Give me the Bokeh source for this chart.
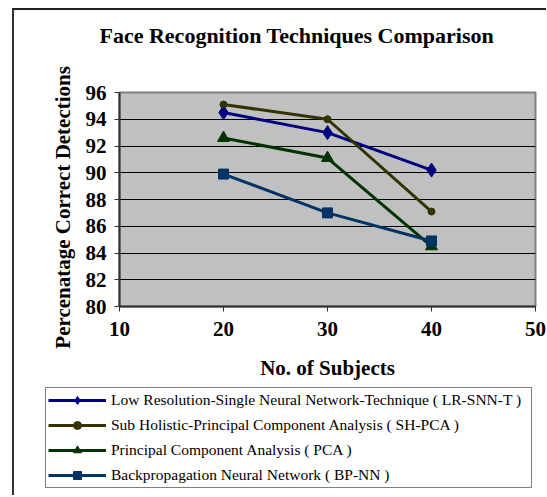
from bokeh.plotting import figure
from bokeh.layouts import column
from bokeh.models import Legend, LegendItem, FixedTicker, Range1d, Label
from bokeh.embed import file_html
from bokeh.resources import INLINE

subjects = [20, 30, 40]
lr_snn_t = [94.5, 93.0, 90.2]
sh_pca = [95.1, 94.0, 87.1]
pca = [92.6, 91.1, 84.5]
bp_nn = [89.9, 87.0, 84.9]
x_ticks = [10, 20, 30, 40, 50]
y_ticks = [80, 82, 84, 86, 88, 90, 92, 94, 96]
series_names = [
    "Low Resolution-Single Neural Network-Technique ( LR-SNN-T )",
    "Sub Holistic-Principal Component Analysis ( SH-PCA )",
    "Principal Component Analysis ( PCA )",
    "Backpropagation Neural Network ( BP-NN )",
]
chart_title = "Face Recognition Techniques Comparison"
x_title = "No. of Subjects"
y_title = "Percenatage Correct Detections"

SERIF = "Liberation Serif"
W = 532

colors = ["#000080", "#333300", "#003300", "#003366"]
markers = ["diamond", "circle", "triangle", "square"]
sizes = [14, 7, 12, 10]
data = [lr_snn_t, sh_pca, pca, bp_nn]


def blank(height):
    f = figure(width=W, height=height, output_backend="svg", toolbar_location=None,
               x_range=Range1d(0, 1), y_range=Range1d(0, 1),
               x_axis_type=None, y_axis_type=None,
               min_border_left=0, min_border_right=0, min_border_top=0,
               min_border_bottom=0, frame_align=False)
    f.outline_line_color = None
    f.background_fill_color = "white"
    f.border_fill_color = "white"
    f.xgrid.grid_line_color = None
    f.ygrid.grid_line_color = None
    return f


# ---- title strip ----
p0 = blank(39)
p0.add_layout(Label(x=85, y=14, x_units="screen", y_units="screen", text=chart_title,
                    text_font=SERIF, text_font_style="bold", text_font_size="22px",
                    text_color="black", text_baseline="alphabetic"))

# ---- main chart ----
p = figure(width=W, height=336, output_backend="svg", toolbar_location=None,
           x_range=Range1d(10, 50), y_range=Range1d(80, 96),
           min_border_left=105, min_border_right=11, min_border_top=43,
           min_border_bottom=79, frame_align=False)
p.background_fill_color = "#C0C0C0"
p.border_fill_color = "white"
p.outline_line_color = "#808080"
p.outline_line_width = 2

for ax in (p.xaxis[0], p.yaxis[0]):
    ax.major_label_text_font = SERIF
    ax.major_label_text_font_style = "bold"
    ax.major_label_text_font_size = "21px"
    ax.major_label_text_color = "black"
    ax.axis_label_text_font = SERIF
    ax.axis_label_text_font_style = "bold"
    ax.axis_label_text_font_size = "21px"
    ax.axis_label_text_color = "black"
    ax.axis_line_color = "#303030"
    ax.axis_line_width = 2
    ax.major_tick_line_color = "#303030"
    ax.major_tick_out = 5
    ax.major_tick_in = 0
    ax.minor_tick_line_color = None

p.xaxis.ticker = FixedTicker(ticks=x_ticks)
p.yaxis.ticker = FixedTicker(ticks=y_ticks)
p.xaxis.axis_label = x_title
p.yaxis.axis_label = y_title + "\u00a0\u00a0\u00a0"
p.xaxis.major_label_standoff = 10
p.yaxis.major_label_standoff = 8
p.xaxis.axis_label_standoff = 17
p.yaxis.axis_label_standoff = 8

p.xgrid.grid_line_color = None
p.ygrid.grid_line_color = "black"
p.ygrid.grid_line_width = 1

for vals, c, m, s in zip(data, colors, markers, sizes):
    p.line(subjects, vals, line_color=c, line_width=3)
    p.scatter(subjects, vals, marker=m, size=s, fill_color=c, line_color=c)

# ---- legend strip ----
p2 = blank(110)
items = []
for name, vals, c, m in zip(series_names, data, colors, markers):
    ln = p2.line(subjects, vals, line_color=c, line_width=3)
    sc = p2.scatter(subjects, vals, marker=m, size=8, fill_color=c, line_color=c)
    items.append(LegendItem(label=name, renderers=[ln, sc]))

legend = Legend(items=items, location=(31, 7),
                label_text_font=SERIF, label_text_font_size="15.5px",
                label_text_color="black")
legend.border_line_color = "black"
legend.border_line_width = 1
legend.background_fill_color = "white"
legend.background_fill_alpha = 1
legend.glyph_width = 58
legend.glyph_height = 20
legend.label_height = 20
legend.label_width = 418
legend.label_standoff = 5
legend.spacing = 5
legend.padding = 2
legend.margin = 0
p2.add_layout(legend, "center")

layout = column(p0, p, p2, spacing=0)
layout.margin = (8, 0, 0, 12)
layout.styles = {"border-left": "2px solid #333333", "border-top": "2px solid #222222"}

open("out.html", "w").write(file_html(layout, INLINE))
